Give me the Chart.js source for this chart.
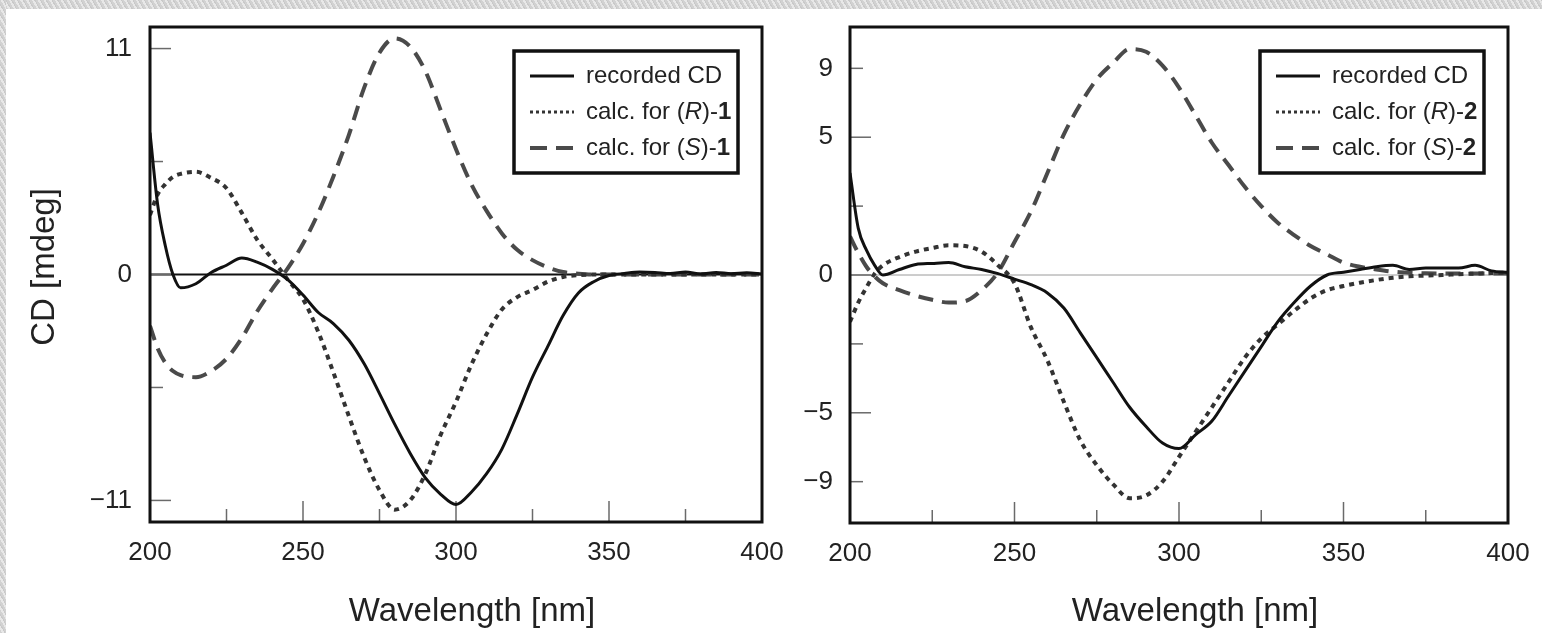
<!DOCTYPE html>
<html>
<head>
<meta charset="utf-8">
<script src="https://cdn.jsdelivr.net/npm/chart.js@4.4.1/dist/chart.umd.min.js"></script>
<style>
  html, body { margin: 0; padding: 0; background: #fff; }
  body { width: 1542px; height: 633px; position: relative; overflow: hidden; }
  .edge { position: absolute; background: repeating-linear-gradient(60deg, #d2d2d2 0 2px, #e8e8e8 2px 4px, #c9c9c9 4px 5px); }
  .edge.top { left: 0; top: 0; width: 1542px; height: 9px; }
  .edge.left { left: 0; top: 0; width: 6px; height: 633px; }
  canvas { position: absolute; top: 0; }
  #cd1 { left: 0; }
  #cd2 { left: 790px; }
</style>
</head>
<body>
<div class="edge top"></div>
<div class="edge left"></div>
<canvas id="cd1" width="790" height="633"></canvas>
<canvas id="cd2" width="752" height="633"></canvas>
<script>
// wavelength grid (nm), shared by both panels
const wavelength = [200, 202.5, 205, 207.5, 210, 215, 220, 225, 230, 235, 240, 245, 250, 255, 260, 265, 270, 275, 280, 285, 290, 295, 300, 305, 310, 315, 320, 325, 330, 335, 340, 345, 350, 355, 360, 365, 370, 375, 380, 385, 390, 395, 400];

// panel 1
const recorded1 = [6.9, 3.4, 1.4, 0.0, -0.65, -0.45, 0.1, 0.45, 0.8, 0.6, 0.25, -0.25, -1.0, -1.85, -2.4, -3.2, -4.35, -5.8, -7.3, -8.7, -9.9, -10.7, -11.2, -10.6, -9.7, -8.5, -6.8, -5.0, -3.5, -2.0, -0.9, -0.35, -0.05, 0.05, 0.12, 0.1, 0.05, 0.12, 0.02, 0.1, 0.04, 0.08, 0.03];
const calcR1 = [2.9, 3.9, 4.4, 4.75, 4.9, 5.0, 4.7, 4.2, 3.0, 1.7, 0.75, -0.25, -1.2, -2.8, -4.8, -6.9, -8.9, -10.5, -11.45, -11.0, -9.7, -7.8, -6.2, -4.4, -2.9, -1.7, -1.1, -0.75, -0.35, -0.12, -0.03, 0, 0, 0, 0, 0, 0, 0, 0, 0, 0, 0, 0];
const calcS1 = [-2.5, -3.6, -4.3, -4.7, -4.9, -5.0, -4.7, -4.1, -3.1, -1.8, -0.7, 0.3, 1.5, 3.0, 4.8, 6.8, 9.1, 10.8, 11.5, 11.1, 9.9, 8.0, 6.1, 4.4, 3.1, 2.0, 1.2, 0.7, 0.35, 0.12, 0.04, 0, 0, 0, 0, 0, 0, 0, 0, 0, 0, 0, 0];

// panel 2
const recorded2 = [3.7, 1.7, 0.9, 0.35, 0.0, 0.2, 0.38, 0.42, 0.45, 0.3, 0.2, 0.05, -0.15, -0.35, -0.65, -1.2, -2.1, -3.0, -3.9, -4.8, -5.5, -6.1, -6.3, -5.8, -5.3, -4.4, -3.5, -2.6, -1.7, -1.0, -0.4, 0.0, 0.1, 0.2, 0.3, 0.35, 0.2, 0.25, 0.25, 0.25, 0.35, 0.15, 0.1];
const calcR2 = [-1.7, -1.0, -0.45, 0.05, 0.35, 0.65, 0.85, 0.98, 1.08, 1.05, 0.85, 0.35, -0.3, -1.9, -3.1, -4.6, -6.0, -6.9, -7.6, -8.1, -8.0, -7.5, -6.6, -5.7, -4.8, -3.9, -3.0, -2.3, -1.8, -1.3, -0.85, -0.55, -0.4, -0.28, -0.18, -0.1, -0.05, -0.02, 0.0, 0.03, 0.05, 0.07, 0.08];
const calcS2 = [1.4, 0.8, 0.3, -0.05, -0.3, -0.55, -0.75, -0.9, -1.0, -0.95, -0.55, 0.1, 1.2, 2.3, 3.7, 5.1, 6.2, 7.1, 7.7, 8.2, 8.1, 7.6, 6.8, 5.8, 4.8, 4.0, 3.2, 2.5, 1.9, 1.45, 1.05, 0.75, 0.45, 0.3, 0.2, 0.12, 0.08, 0.06, 0.05, 0.05, 0.05, 0.05, 0.05];

// ticks
const xTicks = [200, 225, 250, 275, 300, 325, 350, 375, 400];
const xTickLabels = ['200', '', '250', '', '300', '', '350', '', '400'];
const xMajor = [250, 300, 350];
const yTicks1 = [-11, -5.5, 0, 5.5, 11];
const yTickLabels1 = ['\u221211', '', '0', '', '11'];
const yMajor1 = [-11, 0, 11];
const yTicks2 = [-7.5, -5, -2.5, 0, 2.5, 5, 7.5];
const yTickLabels2 = ['\u22129', '\u22125', '', '0', '', '5', '9'];
const yMajor2 = [-5, 0, 5];

const seriesNames = ['recorded CD', 'calc. for (R)', 'calc. for (S)'];

Chart.defaults.font.family = "'Liberation Sans', Arial, sans-serif";
Chart.defaults.color = '#222';

const styles = [
  { borderColor: '#111', borderWidth: 3, borderDash: [] },
  { borderColor: '#333', borderWidth: 4, borderDash: [5, 5] },
  { borderColor: '#4a4a4a', borderWidth: 4, borderDash: [15, 9] }
];
const legendDash = [[], [3, 3], [17, 9]];

function legendRows(num) {
  return [
    [{ t: 'recorded CD' }],
    [{ t: 'calc. for (' }, { t: 'R', s: 'italic ' }, { t: ')-' }, { t: num, s: 'bold ' }],
    [{ t: 'calc. for (' }, { t: 'S', s: 'italic ' }, { t: ')-' }, { t: num, s: 'bold ' }]
  ];
}

// scales keep their box exactly as the layout padding says
function noScalePadding(s) {
  s.paddingTop = 0;
  s.paddingBottom = 0;
  s.paddingLeft = 0;
  s.paddingRight = 0;
}

const framePlugin = {
  id: 'frame',
  beforeDatasetsDraw(chart, args, o) {
    const { ctx, chartArea: a, scales: { x, y } } = chart;
    ctx.save();
    // zero line
    const y0 = y.getPixelForValue(0);
    ctx.strokeStyle = o.zeroColor;
    ctx.lineWidth = o.zeroWidth;
    ctx.beginPath();
    ctx.moveTo(a.left, y0);
    ctx.lineTo(a.right, y0);
    ctx.stroke();
    // inward tick marks
    ctx.strokeStyle = '#6a6a6a';
    ctx.lineWidth = 1.5;
    x.ticks.forEach(t => {
      const px = x.getPixelForValue(t.value);
      const len = xMajor.includes(t.value) ? 21 : 13;
      ctx.beginPath();
      ctx.moveTo(px, a.bottom);
      ctx.lineTo(px, a.bottom - len);
      ctx.stroke();
    });
    y.ticks.forEach(t => {
      const py = y.getPixelForValue(t.value);
      const len = o.yMajor.includes(t.value) ? 21 : 13;
      ctx.beginPath();
      ctx.moveTo(a.left, py);
      ctx.lineTo(a.left + len, py);
      ctx.stroke();
    });
    ctx.restore();
  },
  afterDatasetsDraw(chart, args, o) {
    const { ctx, chartArea: a } = chart;
    ctx.save();
    // frame
    ctx.strokeStyle = '#111';
    ctx.lineWidth = 3;
    ctx.strokeRect(a.left, a.top, a.right - a.left, a.bottom - a.top);

    // legend box
    const bw = 224, bh = 122;
    const bx = a.right - 24 - bw, by = a.top + 24;
    ctx.fillStyle = '#fff';
    ctx.fillRect(bx, by, bw, bh);
    ctx.lineWidth = 3.5;
    ctx.strokeRect(bx, by, bw, bh);
    const rows = legendRows(o.num);
    rows.forEach((parts, i) => {
      const ry = by + 25 + i * 36;
      const ds = chart.data.datasets[i];
      ctx.strokeStyle = ds.borderColor;
      ctx.lineWidth = i === 1 ? 3 : ds.borderWidth;
      ctx.setLineDash(legendDash[i]);
      ctx.beginPath();
      ctx.moveTo(bx + 16, ry);
      ctx.lineTo(bx + 60, ry);
      ctx.stroke();
      ctx.setLineDash([]);
      let tx = bx + 72;
      ctx.fillStyle = '#222';
      ctx.textBaseline = 'middle';
      parts.forEach(p => {
        ctx.font = (p.s || '') + "24px 'Liberation Sans', Arial, sans-serif";
        ctx.fillText(p.t, tx, ry);
        tx += ctx.measureText(p.t).width;
      });
    });

    // axis titles
    ctx.fillStyle = '#222';
    ctx.font = "33px 'Liberation Sans', Arial, sans-serif";
    ctx.textAlign = 'center';
    ctx.textBaseline = 'middle';
    ctx.fillText('Wavelength [nm]', (a.left + a.right) / 2 + 16, 612);
    if (o.yTitle) {
      ctx.translate(45, 267);
      ctx.rotate(-Math.PI / 2);
      ctx.fillText(o.yTitle, 0, 0);
    }
    ctx.restore();
  }
};

function makeChart(id, series, p) {
  const datasets = series.map((vals, i) => ({
    label: seriesNames[i],
    data: wavelength.map((w, k) => ({ x: w, y: vals[k] })),
    borderColor: styles[i].borderColor,
    borderWidth: styles[i].borderWidth,
    borderDash: styles[i].borderDash,
    pointRadius: 0,
    fill: false,
    cubicInterpolationMode: 'monotone'
  }));
  return new Chart(document.getElementById(id), {
    type: 'line',
    data: { datasets },
    plugins: [framePlugin],
    options: {
      responsive: false,
      animation: false,
      layout: { padding: { left: 0, top: 27, right: p.padRight, bottom: 0 } },
      plugins: {
        legend: { display: false },
        tooltip: { enabled: false },
        frame: { zeroColor: p.zeroColor, zeroWidth: p.zeroWidth, yMajor: p.yMajor, num: p.num, yTitle: p.yTitle }
      },
      scales: {
        x: {
          type: 'linear', min: 200, max: 400,
          border: { display: false },
          grid: { display: false, drawTicks: false },
          afterBuildTicks: s => { s.ticks = xTicks.map(v => ({ value: v })); },
          afterFit: s => { s.height = p.xHeight; noScalePadding(s); },
          ticks: {
            autoSkip: false, maxRotation: 0, padding: 15,
            font: { size: 26 }, color: '#222',
            callback: v => xTickLabels[xTicks.indexOf(v)]
          }
        },
        y: {
          type: 'linear', min: p.yMin, max: p.yMax,
          border: { display: false },
          grid: { display: false, drawTicks: false },
          afterBuildTicks: s => { s.ticks = p.yTicks.map(v => ({ value: v })); },
          afterFit: s => { s.width = p.yWidth; noScalePadding(s); },
          ticks: {
            autoSkip: false, padding: p.yPad,
            font: { size: 26 }, color: '#222',
            callback: v => p.yLabels[p.yTicks.indexOf(v)]
          }
        }
      }
    }
  });
}

makeChart('cd1', [recorded1, calcR1, calcS1], {
  padRight: 28, xHeight: 111, yWidth: 150, yPad: 18,
  yMin: -12.05, yMax: 12.05, yTicks: yTicks1, yLabels: yTickLabels1, yMajor: yMajor1,
  zeroColor: '#111', zeroWidth: 2.2, num: '1', yTitle: 'CD [mdeg]'
});
makeChart('cd2', [recorded2, calcR2, calcS2], {
  padRight: 34, xHeight: 110, yWidth: 60, yPad: 17,
  yMin: -9, yMax: 9, yTicks: yTicks2, yLabels: yTickLabels2, yMajor: yMajor2,
  zeroColor: '#9a9a9a', zeroWidth: 1, num: '2', yTitle: null
});
</script>
</body>
</html>
